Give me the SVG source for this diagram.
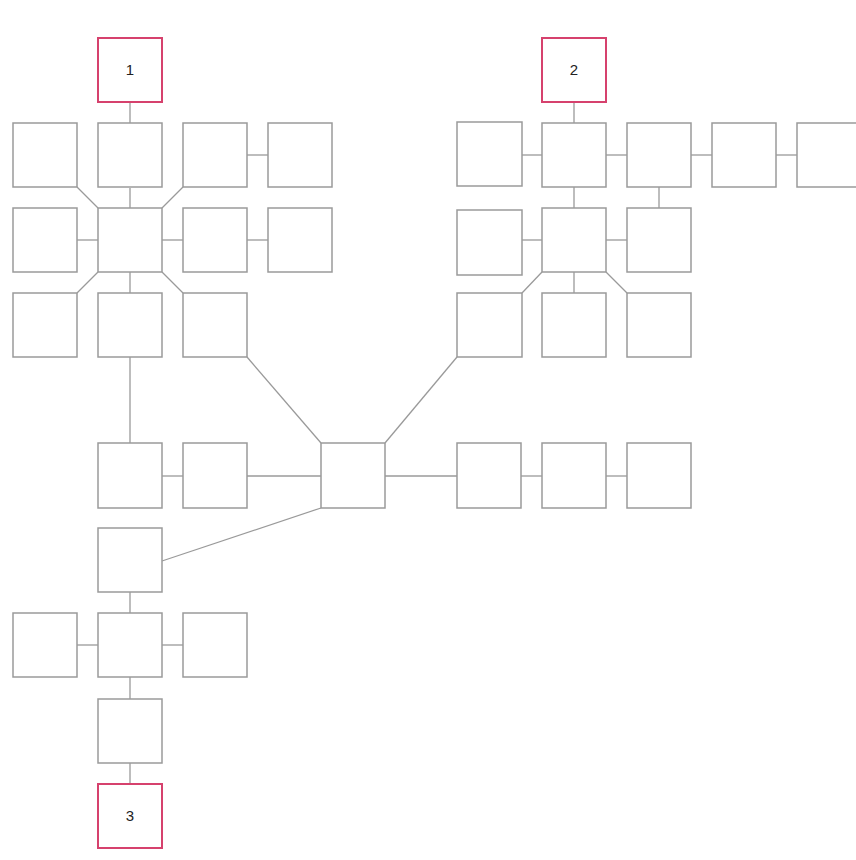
<svg xmlns="http://www.w3.org/2000/svg" width="856" height="860" viewBox="0 0 856 860">
<style>
.n{fill:#fff;stroke:#9a9a9a;stroke-width:1.5}
.k{fill:#fff;stroke:#d6416d;stroke-width:2}
.t{font-family:"Liberation Sans",Arial,sans-serif;font-size:15px;fill:#222;text-anchor:middle}
#connectors line{stroke:#9a9a9a;stroke-width:1.3}
</style>
<rect width="856" height="860" fill="#fff"/>
<g id="connectors">
<line x1="130" y1="102" x2="130" y2="123"/>
<line x1="130" y1="188" x2="130" y2="208"/>
<line x1="77" y1="187" x2="98" y2="208"/>
<line x1="183" y1="187" x2="162" y2="208"/>
<line x1="247" y1="155" x2="268" y2="155"/>
<line x1="77" y1="240" x2="98" y2="240"/>
<line x1="162" y1="240" x2="183" y2="240"/>
<line x1="247" y1="240" x2="268" y2="240"/>
<line x1="98" y1="272" x2="77" y2="293"/>
<line x1="130" y1="272" x2="130" y2="293"/>
<line x1="162" y1="272" x2="183" y2="293"/>
<line x1="130" y1="357" x2="130" y2="443"/>
<line x1="247" y1="357" x2="321" y2="443"/>
<line x1="162" y1="476" x2="183" y2="476"/>
<line x1="247" y1="476" x2="321" y2="476"/>
<line x1="385" y1="476" x2="457" y2="476"/>
<line x1="521" y1="476" x2="542" y2="476"/>
<line x1="606" y1="476" x2="627" y2="476"/>
<line x1="321" y1="508" x2="162" y2="561"/>
<line x1="385" y1="443" x2="457" y2="357"/>
<line x1="130" y1="592" x2="130" y2="613"/>
<line x1="77" y1="645" x2="98" y2="645"/>
<line x1="162" y1="645" x2="183" y2="645"/>
<line x1="130" y1="677" x2="130" y2="699"/>
<line x1="130" y1="763" x2="130" y2="784"/>
<line x1="574" y1="102" x2="574" y2="123"/>
<line x1="522" y1="155" x2="542" y2="155"/>
<line x1="606" y1="155" x2="627" y2="155"/>
<line x1="691" y1="155" x2="712" y2="155"/>
<line x1="776" y1="155" x2="797" y2="155"/>
<line x1="574" y1="187" x2="574" y2="208"/>
<line x1="659" y1="187" x2="659" y2="208"/>
<line x1="522" y1="240" x2="542" y2="240"/>
<line x1="606" y1="240" x2="627" y2="240"/>
<line x1="542" y1="272" x2="522" y2="293"/>
<line x1="574" y1="272" x2="574" y2="293"/>
<line x1="606" y1="272" x2="627" y2="293"/>
</g>
<g id="node-1"><rect class="k" x="98" y="38" width="64" height="64"/><text class="t" x="130" y="75">1</text></g>
<g id="node-2"><rect class="k" x="542" y="38" width="64" height="64"/><text class="t" x="574" y="75">2</text></g>
<g id="node-3"><rect class="k" x="98" y="784" width="64" height="64"/><text class="t" x="130" y="821">3</text></g>
<g id="l11"><rect class="n" x="13" y="123" width="64" height="64"/></g>
<g id="l12"><rect class="n" x="98" y="123" width="64" height="64"/></g>
<g id="l13"><rect class="n" x="183" y="123" width="64" height="64"/></g>
<g id="l14"><rect class="n" x="268" y="123" width="64" height="64"/></g>
<g id="l21"><rect class="n" x="13" y="208" width="64" height="64"/></g>
<g id="l22"><rect class="n" x="98" y="208" width="64" height="64"/></g>
<g id="l23"><rect class="n" x="183" y="208" width="64" height="64"/></g>
<g id="l24"><rect class="n" x="268" y="208" width="64" height="64"/></g>
<g id="l31"><rect class="n" x="13" y="293" width="64" height="64"/></g>
<g id="l32"><rect class="n" x="98" y="293" width="64" height="64"/></g>
<g id="l33"><rect class="n" x="183" y="293" width="64" height="64"/></g>
<g id="r11"><rect class="n" x="457" y="122" width="65" height="64"/></g>
<g id="r12"><rect class="n" x="542" y="123" width="64" height="64"/></g>
<g id="r13"><rect class="n" x="627" y="123" width="64" height="64"/></g>
<g id="r14"><rect class="n" x="712" y="123" width="64" height="64"/></g>
<g id="r15"><rect class="n" x="797" y="123" width="64" height="64"/></g>
<g id="r21"><rect class="n" x="457" y="210" width="65" height="65"/></g>
<g id="r22"><rect class="n" x="542" y="208" width="64" height="64"/></g>
<g id="r23"><rect class="n" x="627" y="208" width="64" height="64"/></g>
<g id="r31"><rect class="n" x="457" y="293" width="65" height="64"/></g>
<g id="r32"><rect class="n" x="542" y="293" width="64" height="64"/></g>
<g id="r33"><rect class="n" x="627" y="293" width="64" height="64"/></g>
<g id="m1"><rect class="n" x="98" y="443" width="64" height="65"/></g>
<g id="m2"><rect class="n" x="183" y="443" width="64" height="65"/></g>
<g id="hub"><rect class="n" x="321" y="443" width="64" height="65"/></g>
<g id="m4"><rect class="n" x="457" y="443" width="64" height="65"/></g>
<g id="m5"><rect class="n" x="542" y="443" width="64" height="65"/></g>
<g id="m6"><rect class="n" x="627" y="443" width="64" height="65"/></g>
<g id="b1"><rect class="n" x="98" y="528" width="64" height="64"/></g>
<g id="b21"><rect class="n" x="13" y="613" width="64" height="64"/></g>
<g id="b22"><rect class="n" x="98" y="613" width="64" height="64"/></g>
<g id="b23"><rect class="n" x="183" y="613" width="64" height="64"/></g>
<g id="b3"><rect class="n" x="98" y="699" width="64" height="64"/></g>
</svg>
